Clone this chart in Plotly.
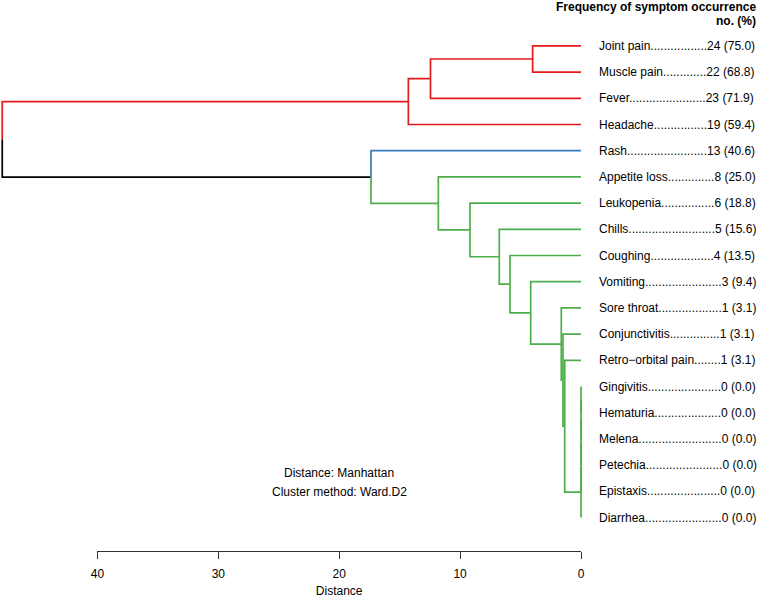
import plotly.graph_objects as go

# ---------------- data ----------------
symptoms = ["Joint pain", "Muscle pain", "Fever", "Headache", "Rash", "Appetite loss",
            "Leukopenia", "Chills", "Coughing", "Vomiting", "Sore throat", "Conjunctivitis",
            "Retro\u2212orbital pain", "Gingivitis", "Hematuria", "Melena", "Petechia",
            "Epistaxis", "Diarrhea"]
counts = [24, 22, 23, 19, 13, 8, 6, 5, 4, 3, 1, 1, 1, 0, 0, 0, 0, 0, 0]
percents = [75.0, 68.8, 71.9, 59.4, 40.6, 25.0, 18.8, 15.6, 13.5, 9.4, 3.1, 3.1, 3.1,
            0.0, 0.0, 0.0, 0.0, 0.0, 0.0]

# hierarchical merges (leaf = symptom name, int = earlier merge index)
merge_left = ["Joint pain", 0, 1, "Gingivitis", 3, 4, 5, 6, "Retro\u2212orbital pain",
              "Conjunctivitis", "Sore throat", "Vomiting", "Coughing", "Chills",
              "Leukopenia", "Appetite loss", "Rash", 2]
merge_right = ["Muscle pain", "Fever", "Headache", "Hematuria", "Melena", "Petechia",
               "Epistaxis", "Diarrhea", 7, 8, 9, 10, 11, 12, 13, 14, 15, 16]
merge_height = [4.0, 12.45, 14.28, 0.0, 0.0, 0.0, 0.0, 0.0, 1.35, 1.49, 1.63, 4.16,
                5.87, 6.76, 9.18, 11.8, 17.37, 47.87]

n_clusters = 3
axis_ticks = [0, 10, 20, 30, 40]

# ---------------- layout constants (pixels) ----------------
W, H = 760, 601
PX_ZERO = 581.0
PX_PER_UNIT = 12.09
ROW_TOP = 45.9
ROW_STEP = 26.2
AXIS_PY = 551.0
LABEL_PX = 597.3
VALUE_RIGHT_PX = 754.0
FONT = "Liberation Sans, Arial, Helvetica, sans-serif"
FS = 12
cluster_palette = ["#E41A1C", "#377EB8", "#4DAF4A"]


def px_to_d(px):
    return (PX_ZERO - px) / PX_PER_UNIT


def py_to_row(py):
    return (py - ROW_TOP) / ROW_STEP


# ---------------- tree geometry ----------------
leaf_index = {s: i for i, s in enumerate(symptoms)}


def node_pos(node):
    if isinstance(node, str):
        return 0.0, float(leaf_index[node])
    return merge_height[node], merge_y[node]


def node_leaves(node):
    if isinstance(node, str):
        return {node}
    return node_leaves(merge_left[node]) | node_leaves(merge_right[node])


merge_y = []
for k in range(len(merge_height)):
    _, yl = node_pos(merge_left[k])
    _, yr = node_pos(merge_right[k])
    merge_y.append((yl + yr) / 2)

# clusters from cutting the top (k-1) merges
order = sorted(range(len(merge_height)), key=lambda k: merge_height[k], reverse=True)
split = set(order[:n_clusters - 1])
cluster_roots = []
for k in split:
    for c in (merge_left[k], merge_right[k]):
        if isinstance(c, str) or c not in split:
            cluster_roots.append(c)
cluster_roots.sort(key=lambda c: min(leaf_index[s] for s in node_leaves(c)))
cluster_sets = [node_leaves(c) for c in cluster_roots]


def edge_color(child):
    lv = node_leaves(child)
    for i, cs in enumerate(cluster_sets):
        if lv <= cs:
            return cluster_palette[i]
    return "#000000"


segs = {}
for k in range(len(merge_height)):
    hk, yk = merge_height[k], merge_y[k]
    for c in (merge_left[k], merge_right[k]):
        hc, yc = node_pos(c)
        col = edge_color(c)
        xs, ys = segs.setdefault(col, ([], []))
        xs += [hk, hk, hc, None]
        ys += [yk, yc, yc, None]

fig = go.Figure()
for col in ["#000000"] + cluster_palette:
    if col in segs:
        xs, ys = segs[col]
        fig.add_trace(go.Scatter(x=xs, y=ys, mode="lines", xaxis="x", yaxis="y",
                                 line=dict(color=col, width=1.7), hoverinfo="skip",
                                 showlegend=False))

# invisible trace to host the distance axis
fig.add_trace(go.Scatter(x=axis_ticks, y=[py_to_row(AXIS_PY)] * len(axis_ticks),
                         xaxis="x2", yaxis="y", mode="markers",
                         marker=dict(opacity=0, size=1), hoverinfo="skip",
                         showlegend=False))

# ---------------- label text (dot leaders sized with Arial metrics) ----------------
ARIAL = {" ": 278, ".": 278, "(": 333, ")": 333, "\u2212": 584, "-": 333,
         "a": 556, "b": 556, "c": 500, "d": 556, "e": 556, "f": 278, "g": 556, "h": 556,
         "i": 222, "j": 222, "k": 500, "l": 222, "m": 833, "n": 556, "o": 556, "p": 556,
         "q": 556, "r": 333, "s": 500, "t": 278, "u": 556, "v": 500, "w": 722, "x": 500,
         "y": 500, "z": 500, "A": 667, "C": 722, "D": 722, "E": 667, "F": 611, "G": 778,
         "H": 722, "J": 500, "L": 556, "M": 833, "P": 667, "R": 722, "S": 667, "V": 667}


def text_w(s):
    return sum(ARIAL.get(ch, 556) for ch in s) * FS / 1000.0


annotations = []
dot_w = 278 * FS / 1000.0
for i, name in enumerate(symptoms):
    val = f"{counts[i]} ({percents[i]:.1f})"
    gap = (VALUE_RIGHT_PX - text_w(val)) - (LABEL_PX + text_w(name))
    ndots = max(1, int(round(gap / dot_w)))
    annotations.append(dict(x=px_to_d(LABEL_PX), y=i, xref="x", yref="y",
                            text=name + "." * ndots + val, showarrow=False,
                            xanchor="left", yanchor="middle",
                            font=dict(family=FONT, size=FS, color="#000")))

annotations += [
    dict(x=758 / W, y=1 - 7 / H, xref="paper", yref="paper", showarrow=False,
         text="<b>Frequency of symptom occurrence</b>", xanchor="right", yanchor="middle",
         font=dict(family=FONT, size=FS, color="#000")),
    dict(x=758 / W, y=1 - 21 / H, xref="paper", yref="paper", showarrow=False,
         text="<b>no. (%)</b>", xanchor="right", yanchor="middle",
         font=dict(family=FONT, size=FS, color="#000")),
    dict(x=20, y=py_to_row(473), xref="x", yref="y", showarrow=False,
         text="Distance: Manhattan", xanchor="center", yanchor="middle",
         font=dict(family=FONT, size=FS, color="#000")),
    dict(x=20, y=py_to_row(492), xref="x", yref="y", showarrow=False,
         text="Cluster method: Ward.D2", xanchor="center", yanchor="middle",
         font=dict(family=FONT, size=FS, color="#000")),
]

fig.update_layout(
    width=W, height=H,
    margin=dict(l=0, r=0, t=0, b=0, pad=0, autoexpand=False),
    paper_bgcolor="#ffffff", plot_bgcolor="rgba(0,0,0,0)",
    showlegend=False,
    xaxis=dict(domain=[0, 1], range=[px_to_d(0), px_to_d(W)], visible=False),
    yaxis=dict(domain=[0, 1], range=[py_to_row(H), py_to_row(0)], visible=False),
    xaxis2=dict(domain=[(PX_ZERO - 40 * PX_PER_UNIT) / W, PX_ZERO / W], range=[40, 0],
                anchor="free", position=1 - AXIS_PY / H, automargin=False,
                showline=True, linecolor="#333333", linewidth=1,
                ticks="outside", ticklen=7, tickwidth=1, tickcolor="#333333",
                tickvals=axis_ticks, showgrid=False, zeroline=False,
                ticklabelstandoff=5,
                tickfont=dict(family=FONT, size=FS, color="#000"),
                title=dict(text="Distance", standoff=6,
                           font=dict(family=FONT, size=FS, color="#000"))),
    annotations=annotations,
)

fig.write_html("out.html", config={"displayModeBar": False},
               post_script="document.body.style.margin='0';document.body.style.overflow='hidden';")
